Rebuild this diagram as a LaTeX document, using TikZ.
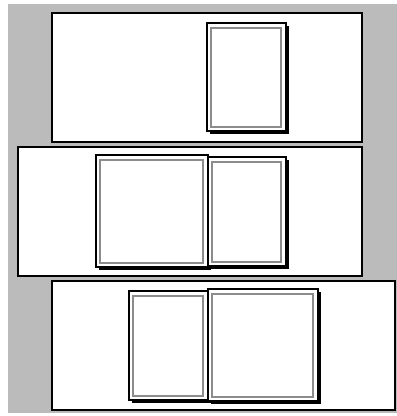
\documentclass[tikz,border=0pt]{standalone}
\definecolor{bggray}{HTML}{BBBBBB}
\definecolor{rimgray}{HTML}{8C8C8C}
\begin{document}
\begin{tikzpicture}[x=1pt,y=-1pt,line width=1.2pt,line join=miter]
  % page: shadow, frame, inner margin
  \def\pgShadow#1#2#3#4{%
    \fill[black] (#1+3,#2+3) rectangle (#3+3,#4+3);}
  \def\pgSheet#1#2#3#4{%
    \draw[fill=white] (#1,#2) rectangle (#3,#4);
    \draw[rimgray,line width=1.4pt] (#1+4,#2+5) rectangle (#3-5,#4-4);}
  \useasboundingbox (0,0) rectangle (397,416);
  \fill[white] (0,0) rectangle (397,416);
  \fill[bggray] (8,4) rectangle (397,413);
  % spread 1
  \draw[fill=white] (52,13) rectangle (362,142);
  \pgShadow{207}{23}{286}{131}
  \pgSheet{207}{23}{286}{131}
  % spread 2
  \draw[fill=white] (18,147) rectangle (362,276);
  \pgShadow{96}{155}{208}{267}
  \pgShadow{208}{157}{286}{266}
  \pgSheet{96}{155}{208}{267}
  \pgSheet{208}{157}{286}{266}
  % spread 3
  \draw[fill=white] (52,281) rectangle (395,410);
  \pgShadow{129}{291}{208}{400}
  \pgShadow{208}{289}{318}{401}
  \pgSheet{129}{291}{208}{400}
  \pgSheet{208}{289}{318}{401}
\end{tikzpicture}
\end{document}
